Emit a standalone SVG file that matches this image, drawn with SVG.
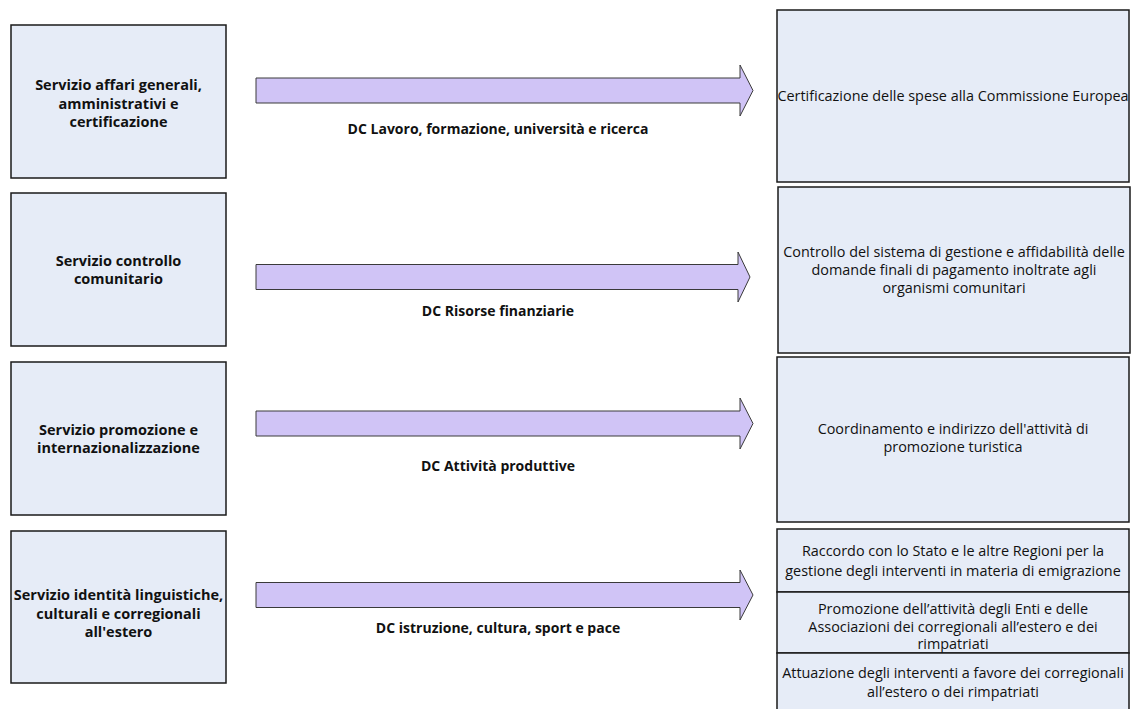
<svg xmlns="http://www.w3.org/2000/svg" width="1136" height="709" viewBox="0 0 1136 709">
<style>
.box{fill:#E6ECF7;stroke:#1a1a1a;stroke-width:1.5}
.arr{fill:#D0C4F6;stroke:#3a3a3a;stroke-width:1}
.lb{font-family:"Open Sans","Noto Sans",sans-serif;font-size:14.5px;font-weight:bold;fill:#111;text-anchor:middle}
.al{font-family:"Open Sans","Noto Sans",sans-serif;font-size:14px;font-weight:bold;fill:#111;text-anchor:middle}
.rt{font-family:"Open Sans","Noto Sans",sans-serif;font-size:14.4px;fill:#111;text-anchor:middle}
</style>
<rect width="1136" height="709" fill="#ffffff"/>
<g id="left1"><rect class="box" x="11" y="25" width="215" height="153"/>
<text class="lb" x="118.5" y="90">Servizio affari generali,</text><text class="lb" x="118.5" y="108.5">amministrativi e</text><text class="lb" x="118.5" y="127">certificazione</text></g>
<g id="left2"><rect class="box" x="11" y="193" width="215" height="153"/>
<text class="lb" x="118.5" y="265.5">Servizio controllo</text><text class="lb" x="118.5" y="284">comunitario</text></g>
<g id="left3"><rect class="box" x="11" y="362" width="215" height="153"/>
<text class="lb" x="118.5" y="434.5">Servizio promozione e</text><text class="lb" x="118.5" y="453">internazionalizzazione</text></g>
<g id="left4"><rect class="box" x="11" y="531" width="215" height="152"/>
<text class="lb" x="118.5" y="600">Servizio identità linguistiche,</text><text class="lb" x="118.5" y="618.5">culturali e corregionali</text><text class="lb" x="118.5" y="637">all'estero</text></g>
<g id="right1"><rect class="box" x="777" y="10" width="352" height="172"/>
<text class="rt" x="953" y="101">Certificazione delle spese alla Commissione Europea</text></g>
<g id="right2"><rect class="box" x="778" y="187" width="352" height="166"/>
<text class="rt" x="954" y="257">Controllo del sistema di gestione e affidabilità delle</text><text class="rt" x="954" y="275">domande finali di pagamento inoltrate agli</text><text class="rt" x="954" y="293">organismi comunitari</text></g>
<g id="right3"><rect class="box" x="777" y="357" width="352" height="165"/>
<text class="rt" x="953" y="434">Coordinamento e indirizzo dell'attività di</text><text class="rt" x="953" y="452">promozione turistica</text></g>
<g id="right4a"><rect class="box" x="777" y="529" width="352" height="63"/>
<text class="rt" x="953" y="556">Raccordo con lo Stato e le altre Regioni per la</text><text class="rt" x="953" y="576">gestione degli interventi in materia di emigrazione</text></g>
<g id="right4b"><rect class="box" x="777" y="592" width="352" height="61"/>
<text class="rt" x="953" y="614">Promozione dell’attività degli Enti e delle</text><text class="rt" x="953" y="632">Associazioni dei corregionali all’estero e dei</text><text class="rt" x="953" y="649">rimpatriati</text></g>
<g id="right4c"><rect class="box" x="777" y="653" width="352" height="62"/>
<text class="rt" x="953" y="677.5">Attuazione degli interventi a favore dei corregionali</text><text class="rt" x="953" y="697">all’estero o dei rimpatriati</text></g>
<g id="connectors">
<polygon class="arr" points="256,78 740,78 740,65 753,90.5 740,116 740,103 256,103"/>
<polygon class="arr" points="256,264.5 738,264.5 738,252 750,277 738,302 738,289.5 256,289.5"/>
<polygon class="arr" points="256,411 740,411 740,398 753,423.5 740,449 740,436 256,436"/>
<polygon class="arr" points="256,582.5 740,582.5 740,570 753,595 740,620 740,607.5 256,607.5"/>
<text class="al" x="498" y="133.5">DC Lavoro, formazione, università e ricerca</text>
<text class="al" x="498" y="315.5">DC Risorse finanziarie</text>
<text class="al" x="498" y="470.5">DC Attività produttive</text>
<text class="al" x="498" y="632.5">DC istruzione, cultura, sport e pace</text>
</g>
</svg>
